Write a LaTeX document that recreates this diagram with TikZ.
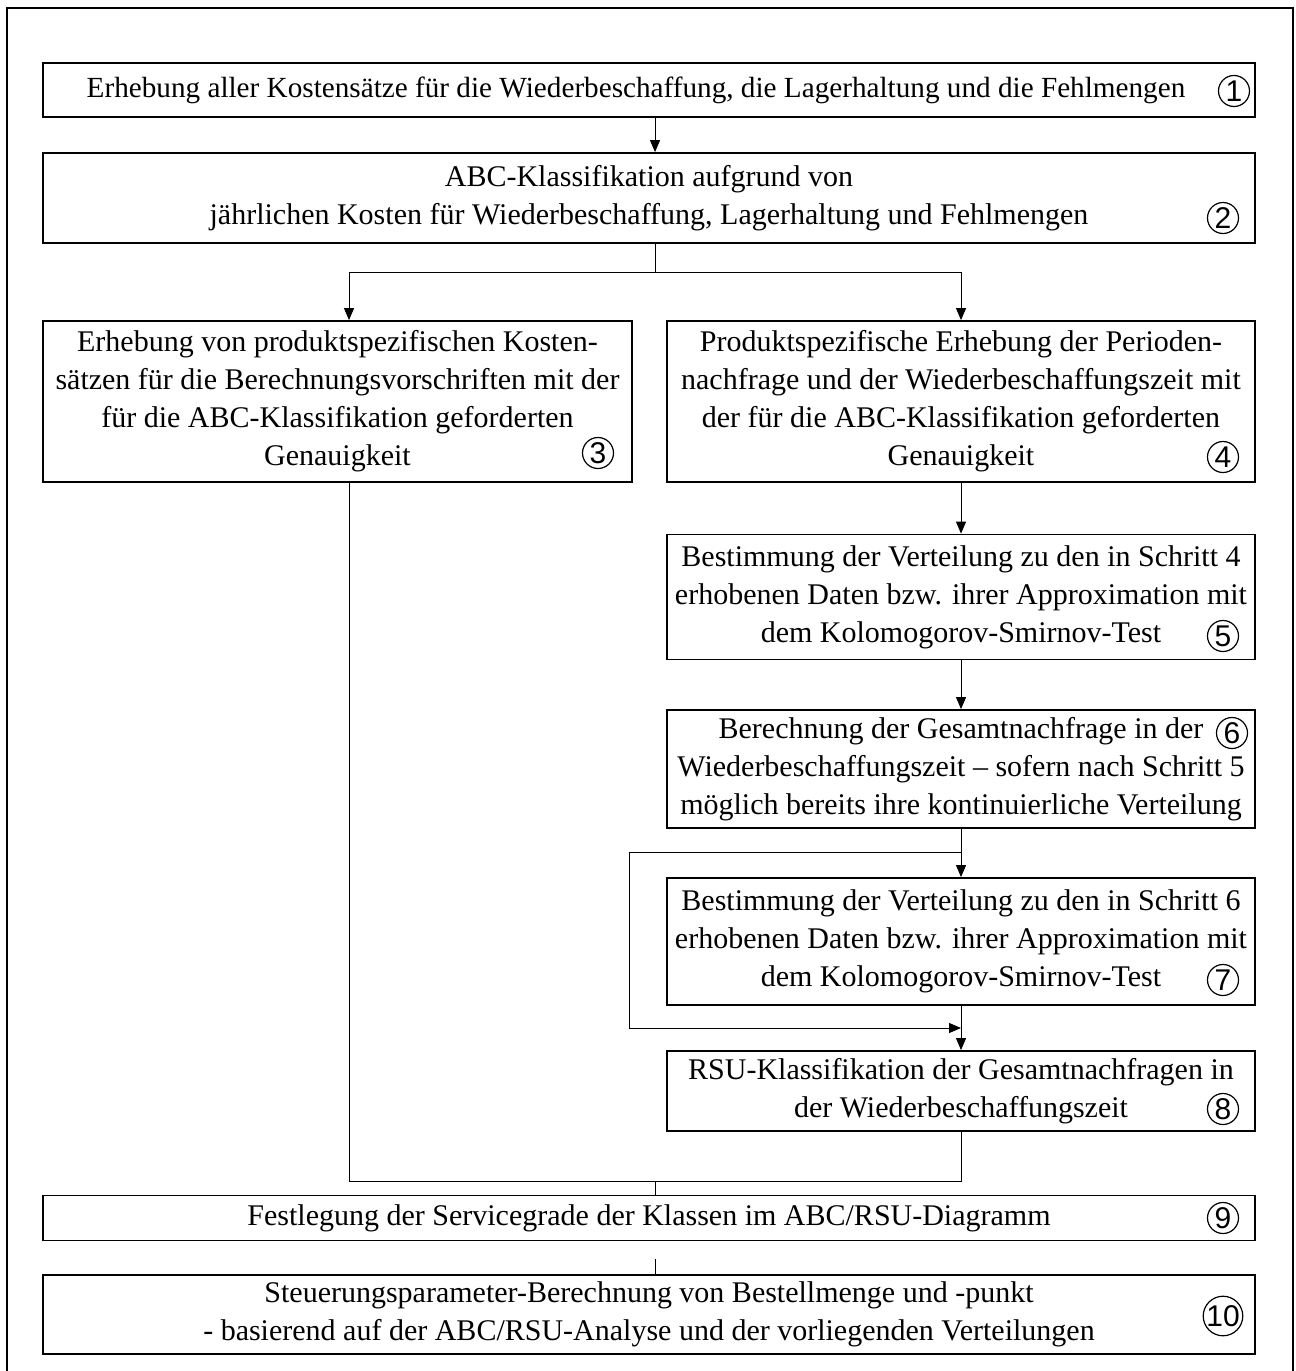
\documentclass[tikz,border=0pt]{standalone}
\usepackage{fontspec}
\setmainfont{Liberation Serif}
\newfontfamily\numfont{Liberation Sans}
\usetikzlibrary{arrows.meta}
\begin{document}
\begin{tikzpicture}[x=0.5pt,y=-0.5pt,
  box/.style={draw, line width=0.9pt, inner sep=0pt, align=center,
    font=\fontsize{15}{19}\selectfont},
  num/.style={draw, circle, line width=0.6pt, inner sep=0pt, minimum size=15.5pt,
    font=\numfont\fontsize{15}{15}\selectfont},
  conn/.style={line width=0.5pt},
  arr/.style={conn, -{Triangle[length=6pt,width=5pt]}}]
\useasboundingbox (0,0) rectangle (1296,1371);
\draw[line width=0.9pt] (7,1371) -- (7,8) -- (1293,8) -- (1293,1371);

\node[box, minimum width=606pt, minimum height=27pt, font=\fontsize{14.6}{19}\selectfont] (b1) at (649,90)
  {Erhebung aller Kostensätze für die Wiederbeschaffung, die Lagerhaltung und die Fehlmengen\hspace*{13pt}};
\node[box, minimum width=606pt, minimum height=45pt] (b2) at (649,198)
  {ABC-Klassifikation aufgrund von\\jährlichen Kosten für Wiederbeschaffung, Lagerhaltung und Fehlmengen};
\node[box, minimum width=294.5pt, minimum height=80.5pt] (b3) at (337.5,401.5)
  {Erhebung von produktspezifischen Kosten-\\sätzen für die Berechnungsvorschriften mit der\\für die ABC-Klassifikation geforderten\\Genauigkeit};
\node[box, minimum width=294pt, minimum height=80.5pt] (b4) at (961,401.5)
  {Produktspezifische Erhebung der Perioden-\\nachfrage und der Wiederbeschaffungszeit mit\\der für die ABC-Klassifikation geforderten\\Genauigkeit};
\node[box, minimum width=294pt, minimum height=62.5pt] (b5) at (961,597)
  {Bestimmung der Verteilung zu den in Schritt 4\\erhobenen Daten bzw. ihrer Approximation mit\\dem Kolomogorov-Smirnov-Test};
\node[box, minimum width=294pt, minimum height=59pt] (b6) at (961,769)
  {Berechnung der Gesamtnachfrage in der\\Wiederbeschaffungszeit – sofern nach Schritt 5\\möglich bereits ihre kontinuierliche Verteilung};
\node[box, minimum width=294pt, minimum height=63.5pt] (b7) at (961,941.5)
  {Bestimmung der Verteilung zu den in Schritt 6\\erhobenen Daten bzw. ihrer Approximation mit\\dem Kolomogorov-Smirnov-Test};
\node[box, minimum width=294pt, minimum height=40pt] (b8) at (961,1091)
  {RSU-Klassifikation der Gesamtnachfragen in\\der Wiederbeschaffungszeit};
\node[box, minimum width=606pt, minimum height=22.5pt] (b9) at (649,1218)
  {Festlegung der Servicegrade der Klassen im ABC/RSU-Diagramm};
\node[box, minimum width=606pt, minimum height=39.5pt] (b10) at (649,1314.5)
  {Steuerungsparameter-Berechnung von Bestellmenge und -punkt\\- basierend auf der ABC/RSU-Analyse und der vorliegenden Verteilungen};

\node[num] (n1) at (1234,91) {1};
\node[num] (n2) at (1223,218) {2};
\node[num] (n3) at (598,453) {3};
\node[num] (n4) at (1223,457) {4};
\node[num] (n5) at (1223,636) {5};
\node[num] (n6) at (1232,733) {6};
\node[num] (n7) at (1223,980) {7};
\node[num] (n8) at (1223,1109) {8};
\node[num] (n9) at (1223,1218) {9};
\node[num, minimum size=17pt] (n10) at (1223,1316) {10};

\coordinate (m) at (655,0);
\coordinate (xl) at (349,0);
\coordinate (s) at (655,272);
\coordinate (j) at (961,852);
\coordinate (k) at (961,1028);
\coordinate (lp) at (629,0);
\coordinate (mb) at (655,1181);
\coordinate (t) at (655,1259);

\draw[arr] (b1.south -| m) -- (b2.north -| m);
\draw[conn] (b2.south -| m) -- (s);
\draw[arr] (s) -| (b3.north -| xl);
\draw[arr] (s) -| (b4.north);
\draw[arr] (b4.south) -- (b5.north);
\draw[arr] (b5.south) -- (b6.north);
\draw[arr] (b6.south) -- (b7.north);
\draw[arr] (j) -| (lp |- k) -- (k);
\draw[arr] (b7.south) -- (b8.north);
\draw[conn] (b3.south -| xl) |- (mb) -| (b8.south);
\draw[conn] (mb) -- (b9.north -| m);
\draw[conn] (t) -- (b10.north -| m);
\end{tikzpicture}
\end{document}
